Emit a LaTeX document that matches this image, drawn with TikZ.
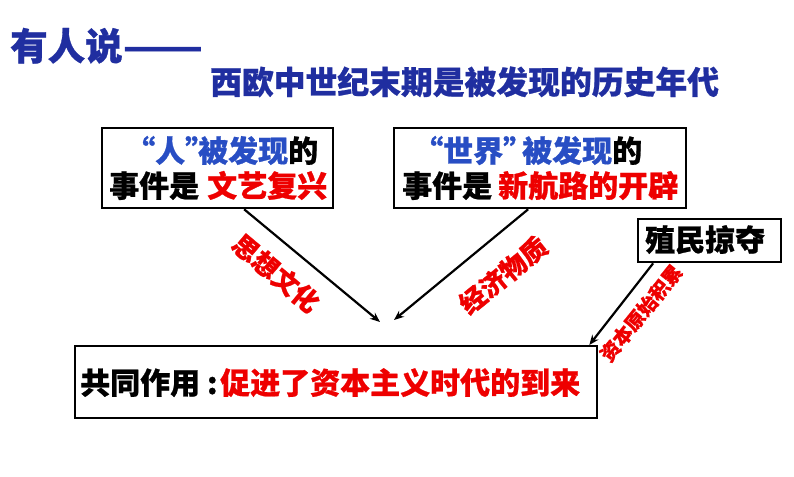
\documentclass[tikz,border=0pt]{standalone}
\usepackage{fontspec}
\setmainfont{Noto Sans CJK SC}[BoldFeatures={FakeBold=0.8}]
\usetikzlibrary{arrows.meta}
\definecolor{titleblue}{RGB}{32,46,160}
\definecolor{keyblue}{RGB}{40,78,196}
\definecolor{redc}{RGB}{238,0,0}
\begin{document}
\begin{tikzpicture}[x=1pt,y=-1pt,
  box/.style={draw=black,line width=2.3pt,inner sep=0,minimum width=#1},
  txt/.style={inner sep=0,anchor=base west,font=\bfseries\fontsize{30}{30}\selectfont},
  arr/.style={-{Stealth[length=10pt,width=8pt]},line width=2.2pt},
  lab/.style={inner sep=0,text=redc,font=\bfseries\fontsize{#1}{#1}\selectfont},
  lab/.default=26]
\useasboundingbox[fill=white] (0,0) rectangle (794,476);
% title
\node[txt,text=titleblue,font=\bfseries\fontsize{37.5}{37.5}\selectfont] (t1) at (10,60) {有人说\scalebox{1.25}[1]{——}};
\node[txt,text=titleblue,font=\bfseries\fontsize{31.8}{31.8}\selectfont] (t2) at (210,94) {西欧中世纪末期是被发现的历史年代};
% box 1
\node[box=231pt,minimum height=80pt,anchor=north west] (b1) at (101,127) {};
\node[txt,text=keyblue] (b1a) at (125,162) {“人”};
\node[txt] (b1b) at (198,162) {\textcolor{keyblue}{被发现}的};
\node[txt] (b1c) at (109,197) {事件是};
\node[txt,text=redc] (b1d) at (207,197) {文艺复兴};
% box 2
\node[box=292pt,minimum height=80pt,anchor=north west] (b2) at (393,127) {};
\node[txt,text=keyblue] (b2a) at (413,162) {“世界”};
\node[txt] (b2b) at (522,162) {\textcolor{keyblue}{被发现}的};
\node[txt] (b2c) at (402,197) {事件是};
\node[txt,text=redc] (b2d) at (498,197) {新航路的开辟};
% box 3
\node[box=143pt,minimum height=43pt,anchor=north west] (b3) at (637,218) {};
\node[txt] (b3a) at (645,251) {殖民掠夺};
% bottom box
\node[box=522pt,minimum height=72pt,anchor=north west] (b4) at (74,345) {};
\node[txt] (b4a) at (80,394) {共同作用 :};
\node[txt,text=redc] (b4b) at (220,394) {促进了资本主义时代的到来};
% arrows
\coordinate (e1) at (380,322);
\coordinate (e2) at (394,320);
\draw[arr] ([xshift=26.5pt]b1.south) -- (e1);
\draw[arr] ([xshift=-12pt]b2.south) -- (e2);
\draw[arr] ([xshift=-56.5pt]b3.south) -- ([xshift=-9pt]b4.north east);
% labels
\node[lab,rotate=-40] (l1) at (276,273) {思想文化};
\node[lab,rotate=39] (l2) at (503,275) {经济物质};
\node[lab=19.5,rotate=51] (l3) at (641,313) {资本原始积累};
\end{tikzpicture}
\end{document}
